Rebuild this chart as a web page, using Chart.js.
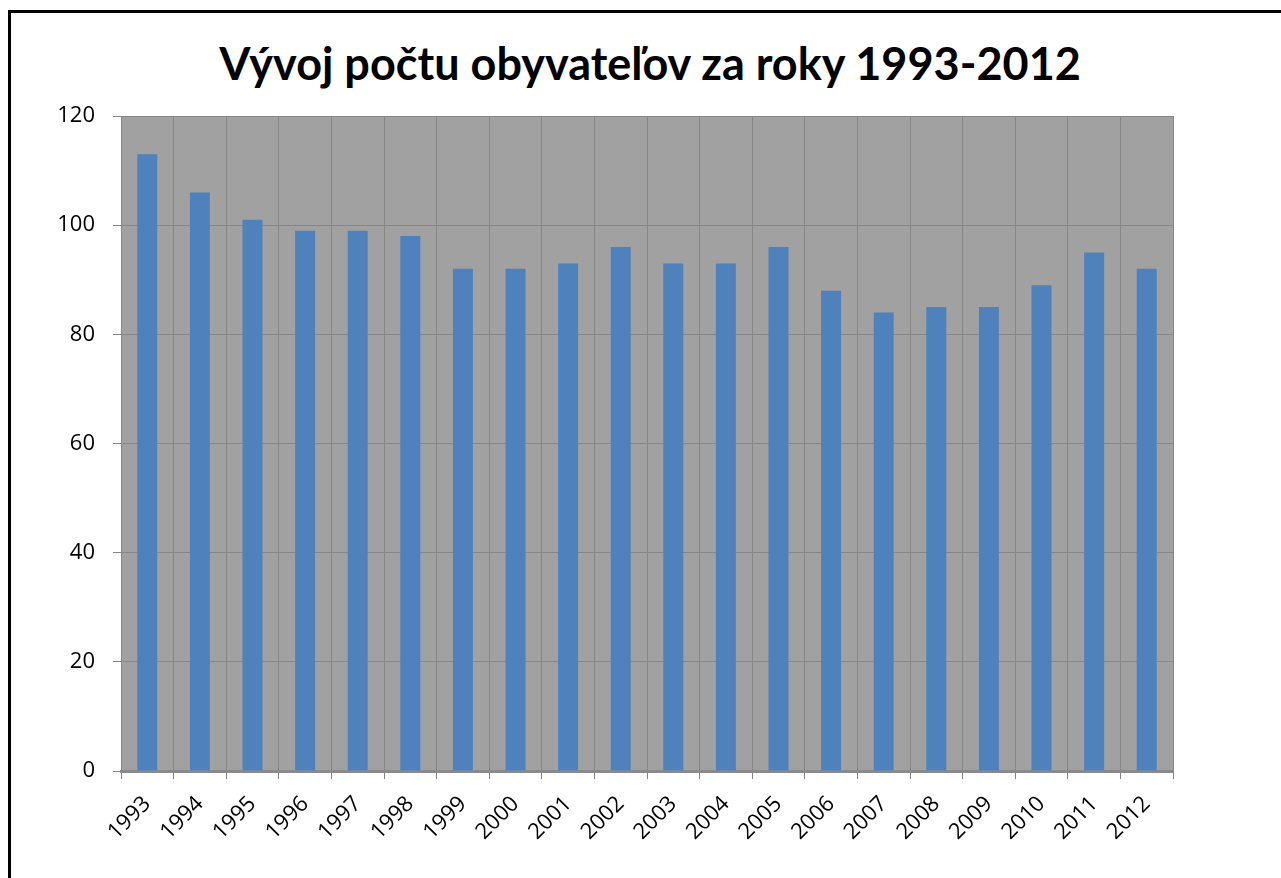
<!DOCTYPE html>
<html>
<head>
<meta charset="utf-8">
<script src="https://cdn.jsdelivr.net/npm/chart.js"></script>
<style>
    body { margin: 0; background: #fff; overflow: hidden; }
    .frame { position: absolute; left: 8px; top: 10px; width: 1400px; height: 1000px; border: 3px solid #000; box-sizing: border-box; }
    .chart-title { position: absolute; left: 0; top: 35px; width: 1300px; margin: 0; text-align: center;
                   font-family: 'Lato', sans-serif; font-weight: bold; font-size: 45px; line-height: 56px; color: #000; }
    .chart-container { position: absolute; left: 0; top: 0; width: 1281px; height: 878px; }
</style>
</head>
<body>
<div class="frame"></div>
<h1 class="chart-title">Vývoj počtu obyvateľov za roky 1993-2012</h1>
<div class="chart-container">
    <canvas id="population-chart"></canvas>
</div>
<script>
// roky a počet obyvateľov
const years = ['1993', '1994', '1995', '1996', '1997', '1998', '1999', '2000', '2001', '2002',
               '2003', '2004', '2005', '2006', '2007', '2008', '2009', '2010', '2011', '2012'];
const population = [113, 106, 101, 99, 99, 98, 92, 92, 93, 96, 93, 93, 96, 88, 84, 85, 85, 89, 95, 92];
const yTicks = [0, 20, 40, 60, 80, 100, 120];

// gray background of the plot area
const plotBackground = {
    id: 'plotBackground',
    beforeDraw(chart) {
        const { ctx, chartArea } = chart;
        ctx.save();
        ctx.fillStyle = '#a1a1a1';
        ctx.fillRect(chartArea.left, chartArea.top, chartArea.right - chartArea.left, chartArea.bottom - chartArea.top);
        ctx.restore();
    }
};

new Chart(document.getElementById('population-chart').getContext('2d'), {
    type: 'bar',
    data: {
        labels: years,
        datasets: [{
            label: 'Počet obyvateľov',
            data: population,
            backgroundColor: '#4f81bd',
            categoryPercentage: 1,
            barPercentage: 0.38
        }]
    },
    options: {
        responsive: true,
        maintainAspectRatio: false,
        animation: false,
        layout: {
            padding: { left: 20, right: 108, top: 116, bottom: 0 }
        },
        plugins: {
            legend: { display: false },
            tooltip: { enabled: false },
            title: { display: false }
        },
        scales: {
            x: {
                offset: true,
                grid: {
                    offset: true,
                    color: '#868686',
                    lineWidth: 1,
                    tickLength: 8
                },
                border: { color: '#8a8a8a', width: 3 },
                ticks: {
                    color: '#000',
                    font: { family: 'Open Sans', size: 22 },
                    minRotation: 45,
                    maxRotation: 45,
                    padding: 12
                },
                afterFit(scale) { scale.height = 107; }
            },
            y: {
                min: 0,
                max: 120,
                afterBuildTicks(scale) { scale.ticks = yTicks.map(v => ({ value: v })); },
                grid: {
                    color: '#868686',
                    lineWidth: 1,
                    tickLength: 8
                },
                border: { color: '#868686', width: 1 },
                ticks: {
                    color: '#000',
                    font: { family: 'Open Sans', size: 22 },
                    padding: 18
                },
                afterFit(scale) { scale.width = 101; }
            }
        }
    },
    plugins: [plotBackground]
});
</script>
</body>
</html>
